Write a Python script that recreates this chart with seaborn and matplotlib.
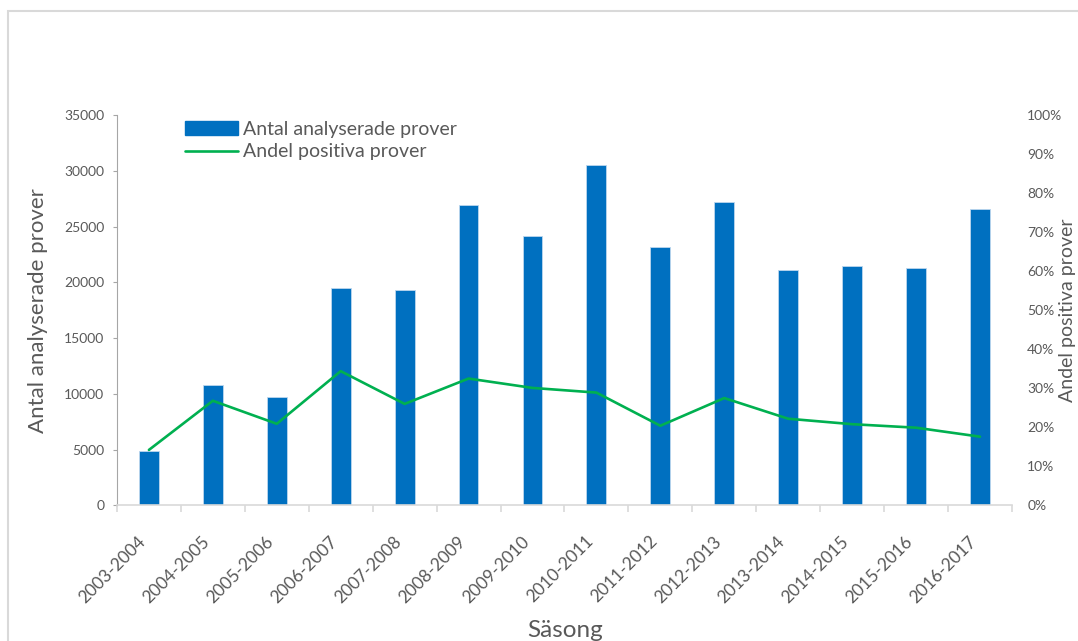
import numpy as np
import pandas as pd
import matplotlib
matplotlib.use('Agg')
import matplotlib.pyplot as plt
import matplotlib.patches as mpatches
from matplotlib.ticker import FixedLocator, PercentFormatter
import seaborn as sns

## data

seasons = ['2003-2004', '2004-2005', '2005-2006', '2006-2007', '2007-2008',
           '2008-2009', '2009-2010', '2010-2011', '2011-2012', '2012-2013',
           '2013-2014', '2014-2015', '2015-2016', '2016-2017']
antal_prover = [4900, 10800, 9700, 19500, 19300, 26950, 24200, 30500,
                23200, 27250, 21100, 21500, 21300, 26550]
andel_positiva = [14.2, 26.8, 20.9, 34.4, 26.0, 32.5, 30.1, 28.9,
                  20.4, 27.5, 22.2, 20.8, 19.9, 17.6]

df = pd.DataFrame({'Säsong': seasons, 'Antal': antal_prover, 'Andel': andel_positiva})
df['pos'] = np.arange(len(df))

sns.set_style('white')
plt.rcParams['font.family'] = ['Lato', 'DejaVu Sans']
grey = '#595959'
blue = '#0070C0'
green = '#00B050'

fig = plt.figure(figsize=(10.78, 6.41), dpi=100)
ax = fig.add_axes([0.1085, 0.2117, 0.8302, 0.6084])

sns.barplot(data=df, x='Säsong', y='Antal', color=blue, width=0.31,
            saturation=1, edgecolor='#BDD7EE', linewidth=0.6, ax=ax)
ax.set_xlim(-0.5, len(df) - 0.5)
ax.set_ylim(0, 35000)
ax.set_yticks(range(0, 35001, 5000))

ax2 = ax.twinx()
sns.lineplot(data=df, x='pos', y='Andel', color=green, linewidth=1.9, ax=ax2)
ax2.set_ylim(0, 100)
ax2.set_yticks(range(0, 101, 10))
ax2.yaxis.set_major_formatter(PercentFormatter(decimals=0))
ax2.set_xlim(-0.5, len(df) - 0.5)

# spines and ticks, Excel look
for a in (ax, ax2):
    for s in a.spines.values():
        s.set_visible(False)
ax.spines['left'].set_visible(True)
ax.spines['left'].set_color('#A6A6A6')
ax.spines['bottom'].set_visible(True)
ax.spines['bottom'].set_color('#D9D9D9')
ax.spines['bottom'].set_linewidth(1.2)

ax.tick_params(axis='y', left=True, length=3, color='#A6A6A6', pad=6,
               labelsize=10, labelcolor=grey)
ax.xaxis.set_minor_locator(FixedLocator(np.arange(-0.5, len(df), 1)))
ax.tick_params(axis='x', which='minor', bottom=True, length=5, color='#D9D9D9', width=1.2)
ax.tick_params(axis='x', which='major', bottom=True, length=0, pad=20,
               labelsize=12.5, labelcolor=grey)
plt.setp(ax.get_xticklabels(), rotation=45, ha='right')
ax2.tick_params(axis='y', right=True, length=0, pad=11, labelsize=10, labelcolor=grey)

ax.set_xlabel('Säsong', fontsize=17.5, color=grey, labelpad=0)
ax.xaxis.set_label_coords(0.501, -0.32)
ax.xaxis.label.set_va('center')
ax.set_ylabel('Antal analyserade prover', fontsize=16, color=grey)
ax.yaxis.set_label_coords(-0.077, 0.5)
ax2.set_ylabel('')
fig.text(1076 / 1078, 1 - 310 / 641, 'Andel positiva prover', rotation=90,
         ha='right', va='center', fontsize=14, color=grey)

# legend
handles = [mpatches.Patch(color=blue, label='Antal analyserade prover'),
           plt.Line2D([], [], color=green, linewidth=1.9, label='Andel positiva prover')]
leg = fig.legend(handles=handles, loc='center left',
                 bbox_to_anchor=(185 / 1078, 1 - 140.5 / 641),
                 frameon=False, fontsize=14, handlelength=2.7, handletextpad=0.3,
                 labelspacing=0.3, borderpad=0, borderaxespad=0)
for t in leg.get_texts():
    t.set_color(grey)

# light outer frame of the chart area
fig.patches.append(mpatches.Rectangle((8 / 1078, -0.1), 1.2, 1.1 - 11 / 641,
                                      transform=fig.transFigure, fill=False,
                                      edgecolor='#D9D9D9', linewidth=1.5))

fig.savefig('out.png', dpi=100)
